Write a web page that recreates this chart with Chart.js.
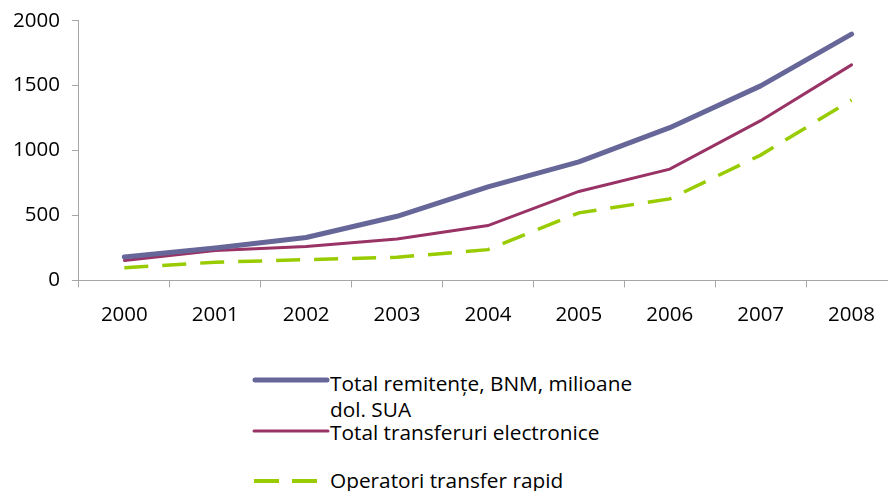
<!DOCTYPE html>
<html>
<head>
<meta charset="utf-8">
<script src="https://cdn.jsdelivr.net/npm/chart.js@4.4.1/dist/chart.umd.min.js"></script>
<style>
  html, body { margin: 0; padding: 0; background: #fff; overflow: hidden; width: 888px; height: 491px; }
  #wrap { position: absolute; left: 0; top: 0; width: 900px; height: 353px; }
  .txt { position: absolute; left: 330px; width: 330px; font-family: "Open Sans", Lato, sans-serif; font-size: 20.8px; color: #000; line-height: 26px; white-space: nowrap; }
  svg.smp { position: absolute; left: 252px; }
</style>
</head>
<body>
<div id="wrap"><canvas id="c" width="900" height="353"></canvas></div>

<svg class="smp" width="78" height="10" style="top:375px;"><line x1="3" y1="5" x2="75" y2="5" stroke="#666699" stroke-width="5" stroke-linecap="round"/></svg>
<div class="txt" style="top:370px;" id="l1a"></div>
<div class="txt" style="top:396px;" id="l1b"></div>
<svg class="smp" width="78" height="10" style="top:426px;"><line x1="2" y1="5" x2="76" y2="5" stroke="#993366" stroke-width="3" stroke-linecap="round"/></svg>
<div class="txt" style="top:419px;" id="l2"></div>
<svg class="smp" width="78" height="10" style="top:476px;"><line x1="2" y1="5" x2="76" y2="5" stroke="#99CC00" stroke-width="4" stroke-dasharray="25,13"/></svg>
<div class="txt" style="top:467px;" id="l3"></div>

<script>
const years = ["2000","2001","2002","2003","2004","2005","2006","2007","2008"];
const totalRemitente = [180, 250, 330, 494, 720, 913, 1176, 1498, 1897];
const transferuriElectronice = [154, 230, 262, 319, 422, 685, 857, 1230, 1660];
const operatoriRapid = [98, 140, 160, 178, 237, 520, 628, 965, 1390];
const seriesNames = ["Total remitențe, BNM, milioane dol. SUA", "Total transferuri electronice", "Operatori transfer rapid"];
const legendLines1 = ["Total remitențe, BNM, milioane", "dol. SUA"];
const yTicks = [0, 500, 1000, 1500, 2000];

document.getElementById('l1a').textContent = legendLines1[0];
document.getElementById('l1b').textContent = legendLines1[1];
document.getElementById('l2').textContent = seriesNames[1];
document.getElementById('l3').textContent = seriesNames[2];

const fontX = { family: '"Open Sans", Lato, sans-serif', size: 20.5 };
const fontY = { family: '"Open Sans", Lato, sans-serif', size: 20.5, lineHeight: 0.85 };

new Chart(document.getElementById('c'), {
  type: 'line',
  data: {
    labels: years,
    datasets: [
      { label: seriesNames[0], data: totalRemitente, borderColor: '#666699', borderWidth: 5, borderCapStyle: 'round', borderJoinStyle: 'round', pointRadius: 0, tension: 0, fill: false },
      { label: seriesNames[1], data: transferuriElectronice, borderColor: '#993366', borderWidth: 3, borderCapStyle: 'round', pointRadius: 0, tension: 0, fill: false },
      { label: seriesNames[2], data: operatoriRapid, borderColor: '#99CC00', borderWidth: 3.5, borderDash: [24, 14], pointRadius: 0, tension: 0, fill: false }
    ]
  },
  options: {
    responsive: false,
    devicePixelRatio: 1,
    animation: false,
    layout: { padding: { top: 8, left: 1, right: 3, bottom: 11 } },
    plugins: { legend: { display: false }, tooltip: { enabled: false } },
    scales: {
      x: {
        offset: true,
        grid: { offset: true, drawOnChartArea: false, drawTicks: true, tickLength: 7, color: '#A6A6A6', lineWidth: 1 },
        border: { color: '#A6A6A6', width: 1 },
        ticks: { color: '#000', font: fontX, padding: 15, maxRotation: 0 }
      },
      y: {
        min: 0, max: 2000,
        afterBuildTicks: (s) => { s.ticks = yTicks.map(v => ({ value: v })); },
        grid: { drawOnChartArea: false, drawTicks: true, tickLength: 7, color: '#A6A6A6', lineWidth: 1 },
        border: { color: '#A6A6A6', width: 1 },
        ticks: { color: '#000', font: fontY, padding: 12, callback: (v) => String(v) }
      }
    }
  }
});
</script>
</body>
</html>
